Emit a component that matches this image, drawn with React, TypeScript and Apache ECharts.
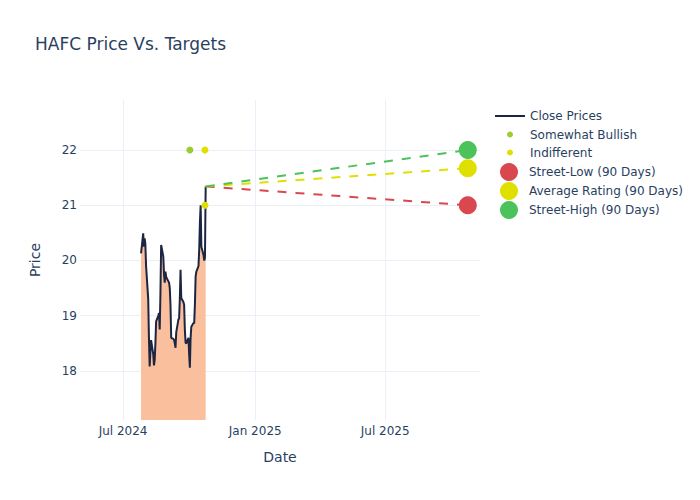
import React, { useEffect, useRef } from "react";
import * as echarts from "echarts";

const TITLE = "HAFC Price Vs. Targets";
const FONT = "DejaVu Sans";
const TEXT_COLOR = "#2a3f5f";
const GRID_COLOR = "#ebf0f8";

// Close prices: trading days from 2024-07-26 to 2024-10-24
const closeStart = "2024-07-26";
const closeEnd = "2024-10-24";
const closeHolidays = ["2024-09-02"];
const closeValues = [
  20.13, 20.49, 20.25, 20.4, 20.3, 19.9, 19.3, 18.6, 18.08, 18.35,
  18.56, 18.3, 18.1, 18.2, 18.5, 18.9, 19.0, 19.05, 18.75, 19.4,
  20.28, 20.07, 19.75, 19.6, 19.8, 19.7, 19.6, 19.5, 19.2, 18.6,
  18.58, 18.56, 18.5, 18.42, 18.7, 18.93, 18.95, 19.3, 19.83, 19.32,
  19.25, 19.2, 18.75, 18.51, 18.5, 18.6, 18.3, 18.06, 18.6, 18.8,
  18.87, 18.86, 19.2, 19.71, 19.8, 19.9, 20.2, 20.7, 21.0, 20.25,
  20.1, 20.0, 20.05, 21.34,
];

// Analyst ratings
const somewhatBullishDates = ["2024-10-02"];
const somewhatBullishValues = [22];
const indifferentDates = ["2024-10-23", "2024-10-23"];
const indifferentValues = [22, 21];

// 90-day targets
const targetDate = "2025-10-24";
const streetLow = 21.0;
const averageRating = 21.67;
const streetHigh = 22.0;

// Axis ticks
const xTickDates = ["2024-07-01", "2025-01-01", "2025-07-01"];
const xTickLabels = ["Jul 2024", "Jan 2025", "Jul 2025"];
const yTicks = [18, 19, 20, 21, 22];
const xMinDate = "2024-05-02";
const xMaxDate = "2025-11-10";
const yMin = 17.113;
const yMax = 22.905;

const COLORS = {
  close: "#1c2642",
  fill: "#fabf9c",
  bullish: "#9acd32",
  indifferent: "#e0df00",
  low: "#d9474f",
  avg: "#e0e000",
  high: "#4cc25a",
};

const ts = (d: string) => {
  const [y, m, dd] = d.split("-").map(Number);
  return Date.UTC(y, m - 1, dd);
};

function tradingDays(start: string, end: string, holidays: string[]): number[] {
  const out: number[] = [];
  const hol = new Set(holidays.map(ts));
  const DAY = 86400000;
  for (let t = ts(start); t <= ts(end); t += DAY) {
    const wd = new Date(t).getUTCDay();
    if (wd === 0 || wd === 6 || hol.has(t)) continue;
    out.push(t);
  }
  return out;
}

export default function App() {
  const ref = useRef<HTMLDivElement>(null);

  useEffect(() => {
    if (!ref.current) return;
    const chart = echarts.init(ref.current, undefined, { renderer: "svg" });

    const days = tradingDays(closeStart, closeEnd, closeHolidays);
    const closeData = closeValues.map((v, i) => [days[i], v]);
    const lastT = days[closeValues.length - 1];
    const lastV = closeValues[closeValues.length - 1];
    const tT = ts(targetDate);
    const xTicks = xTickDates.map(ts);

    const textStyle = { color: TEXT_COLOR, fontSize: 12, fontFamily: FONT };

    const legendAt = (item: any, left: number, top: number, h: number) => ({
      data: [item],
      orient: "vertical" as const,
      left,
      top,
      padding: 0,
      itemWidth: 30,
      itemHeight: h,
      selectedMode: false,
      textStyle,
    });

    const dashed = (target: number, color: string) => ({
      type: "line" as const,
      data: [
        [lastT, lastV],
        [tT, target],
      ],
      symbol: "none",
      lineStyle: { color, width: 2, type: [9, 9] as number[] },
      silent: true,
      z: 3,
    });

    const bigScatter = (name: string, value: number, color: string) => ({
      name,
      type: "scatter" as const,
      data: [[tT, value]],
      symbol: "circle",
      symbolSize: 18,
      itemStyle: { color, opacity: 1 },
      z: 4,
    });

    chart.setOption({
      animation: false,
      backgroundColor: "#ffffff",
      textStyle: { fontFamily: FONT },
      title: {
        text: TITLE,
        left: 35,
        top: 35,
        padding: 0,
        textStyle: { color: TEXT_COLOR, fontSize: 17, fontWeight: "normal", fontFamily: FONT },
      },
      legend: [
        legendAt({ name: "Close Prices", icon: "path://M0,0H30V2H0Z" }, 495, 110, 14),
        legendAt("Somewhat Bullish", 507, 128.5, 6),
        legendAt("Indifferent", 507, 146.5, 6),
        legendAt("Street-Low (90 Days)", 500, 163, 18),
        legendAt("Average Rating (90 Days)", 500, 182, 18),
        legendAt("Street-High (90 Days)", 500, 201, 18),
      ],
      grid: { left: 80, right: 220, top: 100, bottom: 80, containLabel: false },
      xAxis: {
        type: "value",
        min: ts(xMinDate),
        max: ts(xMaxDate),
        name: "Date",
        nameLocation: "middle",
        nameGap: 30,
        nameTextStyle: { color: TEXT_COLOR, fontSize: 14, fontFamily: FONT },
        axisLine: { show: false },
        axisTick: { show: false, customValues: xTicks },
        axisLabel: {
          customValues: xTicks,
          margin: 5,
          color: TEXT_COLOR,
          fontSize: 12,
          fontFamily: FONT,
          formatter: (v: number) => {
            const i = xTicks.indexOf(v);
            return i >= 0 ? xTickLabels[i] : "";
          },
        },
        splitLine: { show: true, lineStyle: { color: GRID_COLOR, width: 1 } },
      },
      yAxis: {
        type: "value",
        min: yMin,
        max: yMax,
        name: "Price",
        nameLocation: "middle",
        nameGap: 38,
        nameTextStyle: { color: TEXT_COLOR, fontSize: 14, fontFamily: FONT },
        axisLine: { show: false },
        axisTick: { show: false, customValues: yTicks },
        axisLabel: {
          customValues: yTicks,
          margin: 3,
          color: TEXT_COLOR,
          fontSize: 12,
          fontFamily: FONT,
        },
        splitLine: { show: true, lineStyle: { color: GRID_COLOR, width: 1 } },
      },
      series: [
        {
          name: "Close Prices",
          type: "line",
          data: closeData,
          symbol: "none",
          lineStyle: { color: COLORS.close, width: 2 },
          itemStyle: { color: COLORS.close },
          areaStyle: { color: COLORS.fill, opacity: 1, origin: "start" },
          z: 2,
        },
        {
          name: "Somewhat Bullish",
          type: "scatter",
          data: somewhatBullishDates.map((d, i) => [ts(d), somewhatBullishValues[i]]),
          symbolSize: 7,
          itemStyle: { color: COLORS.bullish, opacity: 1 },
          z: 5,
        },
        {
          name: "Indifferent",
          type: "scatter",
          data: indifferentDates.map((d, i) => [ts(d), indifferentValues[i]]),
          symbolSize: 7,
          itemStyle: { color: COLORS.indifferent, opacity: 1 },
          z: 5,
        },
        dashed(streetLow, COLORS.low),
        dashed(averageRating, COLORS.avg),
        dashed(streetHigh, COLORS.high),
        bigScatter("Street-Low (90 Days)", streetLow, COLORS.low),
        bigScatter("Average Rating (90 Days)", averageRating, COLORS.avg),
        bigScatter("Street-High (90 Days)", streetHigh, COLORS.high),
      ],
    });

    return () => chart.dispose();
  }, []);

  return <div ref={ref} style={{ width: 700, height: 500, position: "absolute", left: 0, top: 0 }} />;
}
